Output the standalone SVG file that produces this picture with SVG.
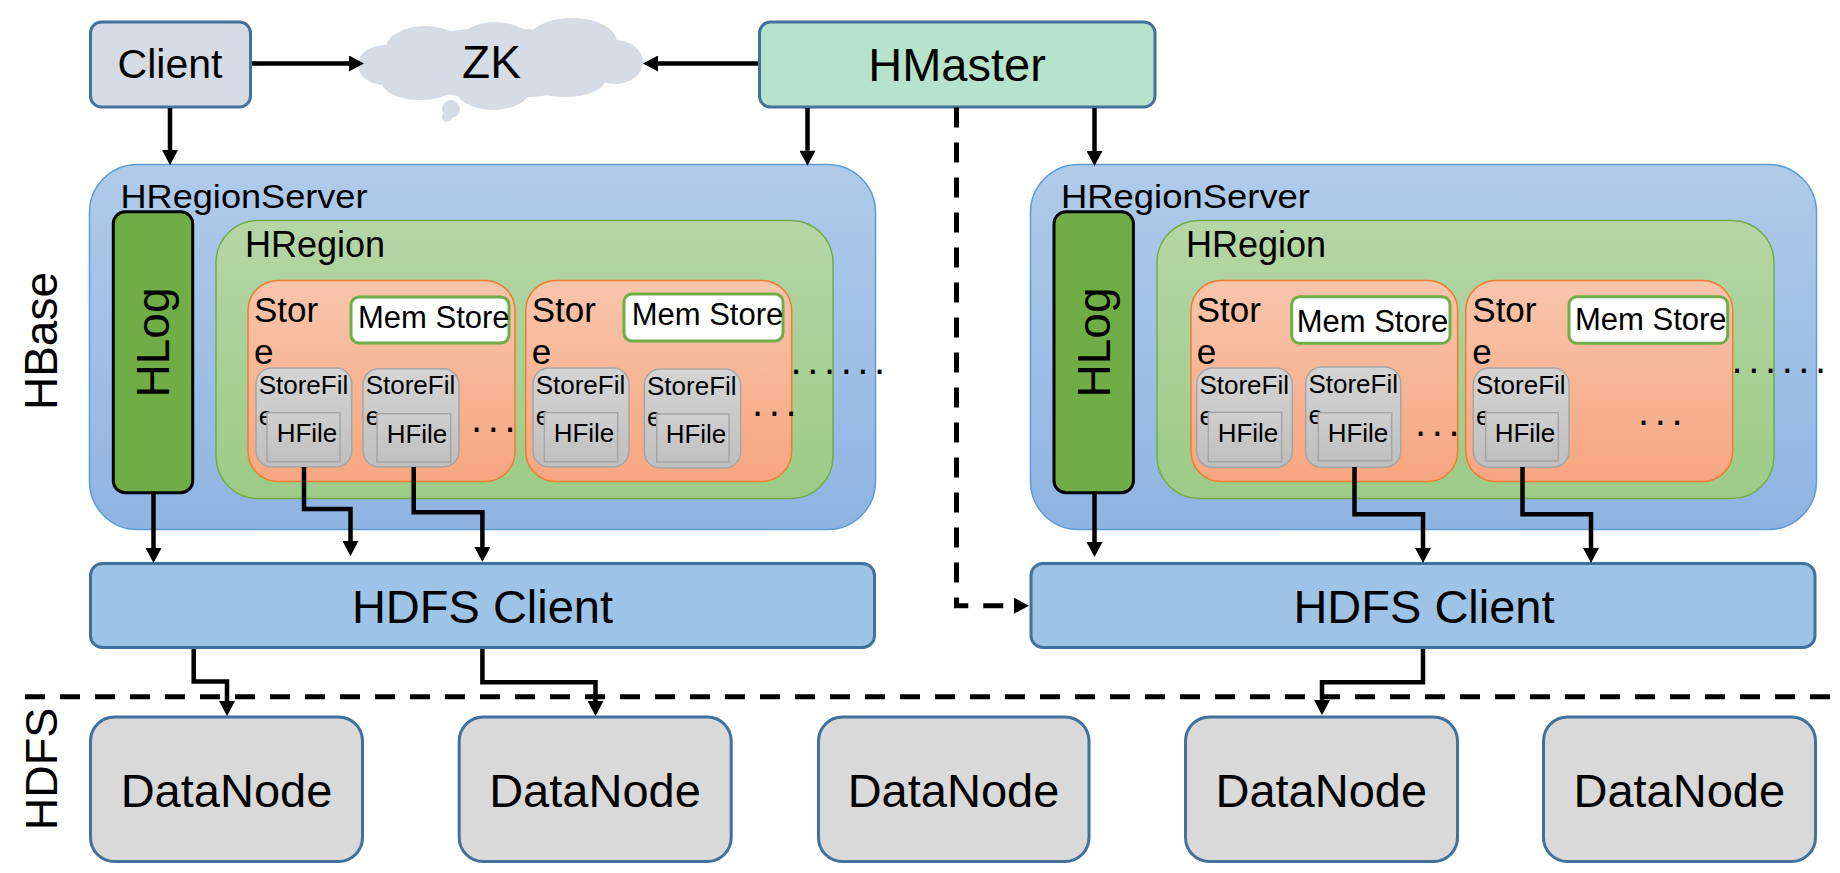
<svg xmlns="http://www.w3.org/2000/svg" width="1840" height="873" viewBox="0 0 1840 873">
<defs>
  <linearGradient id="gRS" x1="0" y1="0" x2="0" y2="1"><stop offset="0" stop-color="#b0cbea"/><stop offset="1" stop-color="#8fb4e2"/></linearGradient>
  <linearGradient id="gHR" x1="0" y1="0" x2="0" y2="1"><stop offset="0" stop-color="#b5d6a6"/><stop offset="1" stop-color="#9ccb86"/></linearGradient>
  <linearGradient id="gST" x1="0" y1="0" x2="0" y2="1"><stop offset="0" stop-color="#f8c5ac"/><stop offset="1" stop-color="#f6a67f"/></linearGradient>
  <linearGradient id="gSF" x1="0" y1="0" x2="0" y2="1"><stop offset="0" stop-color="#d4d4d4"/><stop offset="1" stop-color="#bfbfbf"/></linearGradient>
  <linearGradient id="gHF" x1="0" y1="0" x2="0" y2="1"><stop offset="0" stop-color="#cfcfcf"/><stop offset="1" stop-color="#c0c0c0"/></linearGradient>
  <marker id="ah" markerUnits="userSpaceOnUse" markerWidth="16" markerHeight="16" viewBox="0 0 15 16" refX="0" refY="8" orient="auto">
    <path d="M0,0 L15,8 L0,16 z" fill="#000"/>
  </marker>
</defs>
<style>
  text { font-family: "Liberation Sans", Arial, sans-serif; fill: #000; }
  .box { stroke: #41719c; stroke-width: 3; }
  .rs { fill: url(#gRS); stroke: #5b9bd5; stroke-width: 1.5; }
  .hr { fill: url(#gHR); stroke: #70ad47; stroke-width: 1.5; }
  .st { fill: url(#gST); stroke: #ed7d31; stroke-width: 1.5; }
  .sf { fill: url(#gSF); stroke: #a5a5a5; stroke-width: 1.5; }
  .hf { fill: url(#gHF); stroke: #a5a5a5; stroke-width: 1.5; }
  .mem { fill: #ffffff; stroke: #70ad47; stroke-width: 3; }
  .hlog { fill: #70ad47; stroke: #000; stroke-width: 3; }
  .dn { fill: #d9d9d9; }
  .conn { fill: none; stroke: #000; stroke-width: 4.5; stroke-linejoin: miter; }
  .dash { fill: none; stroke: #000; stroke-width: 5; stroke-dasharray: 20 15; }
  .t35 { font-size: 35px; }
  .t31 { font-size: 31px; }
  .t26 { font-size: 26px; }
  .dots { font-size: 40px; letter-spacing: 5.6px; }
  .mid { text-anchor: middle; }
</style>

<!-- side labels -->
<text class="mid" font-size="46" transform="translate(57,341) rotate(-90)">HBase</text>
<text class="mid" font-size="45" transform="translate(57,769) rotate(-90)">HDFS</text>

<!-- HDFS boundary -->
<line class="dash" x1="25" y1="696.7" x2="1840" y2="696.7" stroke-width="5.3"/>

<g id="client">
  <rect class="box" x="90.5" y="22" width="160" height="85" rx="11" fill="#d6dce5"/>
  <text class="mid" x="170" y="78" font-size="41">Client</text>
</g>

<g id="zk">
  <g fill="#d6dce5">
    <ellipse cx="500" cy="63" rx="125" ry="35"/>
    <ellipse cx="425" cy="50" rx="40" ry="24"/>
    <ellipse cx="495" cy="45" rx="38" ry="23"/>
    <ellipse cx="572" cy="42" rx="45" ry="24"/>
    <ellipse cx="615" cy="62" rx="28" ry="22"/>
    <ellipse cx="565" cy="80" rx="40" ry="17"/>
    <ellipse cx="493" cy="88" rx="38" ry="22"/>
    <ellipse cx="420" cy="82" rx="38" ry="18"/>
    <ellipse cx="385" cy="65" rx="27" ry="20"/>
    <circle cx="451" cy="109" r="9"/>
    <circle cx="447" cy="117" r="5"/>
  </g>
  <text class="mid" x="491.5" y="78.3" font-size="46">ZK</text>
</g>

<g id="hmaster">
  <rect class="box" x="759.5" y="22" width="395.5" height="85" rx="11" fill="#b6e3cc"/>
  <text class="mid" x="957" y="81" font-size="47">HMaster</text>
</g>

<!-- Left HRegionServer -->
<g id="hregionserver1">
  <rect class="rs" x="89.5" y="164.5" width="786" height="365" rx="48"/>
  <text x="120.5" y="208.3" font-size="33" textLength="247" lengthAdjust="spacingAndGlyphs">HRegionServer</text>
</g>
<g id="hlog1">
  <rect class="hlog" x="113.3" y="211.7" width="79.4" height="281" rx="12"/>
  <text class="mid" font-size="46" transform="translate(169,342.5) rotate(-90)">HLog</text>
</g>
<g id="hregion1">
  <rect class="hr" x="216" y="220.5" width="617" height="278" rx="42"/>
  <text x="245" y="257.3" font-size="36">HRegion</text>
</g>
<g id="store1a">
  <rect class="st" x="248" y="280.5" width="267" height="201" rx="30"/>
  <text class="t35" x="254" y="322">Stor</text>
  <text class="t35" x="254" y="364">e</text>
  <rect class="mem" x="351" y="297" width="158" height="46" rx="8"/>
  <text class="t31" x="358" y="328">Mem Store</text>
  <rect class="sf" x="256" y="368" width="95.7" height="99" rx="16"/>
  <text class="t26" x="258.7" y="394">StoreFil</text>
  <text class="t26" x="258.7" y="425">e</text>
  <rect class="hf" x="267" y="412.7" width="73" height="49"/>
  <text class="t26 mid" x="307" y="441.7">HFile</text>
  <rect class="sf" x="363" y="368.7" width="96" height="98.3" rx="16"/>
  <text class="t26" x="365.7" y="394">StoreFil</text>
  <text class="t26" x="365.7" y="425">e</text>
  <rect class="hf" x="377" y="413.7" width="73.7" height="48.3"/>
  <text class="t26 mid" x="417" y="442.5">HFile</text>
  <text class="dots" x="471" y="432">...</text>
</g>
<g id="store1b">
  <rect class="st" x="525.7" y="280.5" width="266" height="201" rx="30"/>
  <text class="t35" x="531.7" y="322">Stor</text>
  <text class="t35" x="531.7" y="364">e</text>
  <rect class="mem" x="624" y="294" width="159" height="47" rx="8"/>
  <text class="t31" x="631.7" y="325">Mem Store</text>
  <rect class="sf" x="533" y="368" width="96" height="99" rx="16"/>
  <text class="t26" x="535.7" y="394">StoreFil</text>
  <text class="t26" x="535.7" y="425">e</text>
  <rect class="hf" x="544.3" y="412.7" width="73.4" height="49"/>
  <text class="t26 mid" x="584" y="441.7">HFile</text>
  <rect class="sf" x="644.3" y="369" width="96.4" height="99" rx="16"/>
  <text class="t26" x="647" y="395">StoreFil</text>
  <text class="t26" x="647" y="426">e</text>
  <rect class="hf" x="656.7" y="414" width="72.3" height="48"/>
  <text class="t26 mid" x="696" y="443">HFile</text>
  <text class="dots" x="752" y="416">...</text>
</g>
<text class="dots" x="790.5" y="374" letter-spacing="4.7">......</text>

<!-- Right HRegionServer -->
<g id="hregionserver2">
  <rect class="rs" x="1030.5" y="164.5" width="786" height="365" rx="48"/>
  <text x="1061" y="208.3" font-size="33" textLength="249" lengthAdjust="spacingAndGlyphs">HRegionServer</text>
</g>
<g id="hlog2">
  <rect class="hlog" x="1054" y="211.7" width="79.4" height="281" rx="12"/>
  <text class="mid" font-size="46" transform="translate(1110,342.5) rotate(-90)">HLog</text>
</g>
<g id="hregion2">
  <rect class="hr" x="1157" y="220.5" width="617" height="278" rx="42"/>
  <text x="1186" y="257.3" font-size="36">HRegion</text>
</g>
<g id="store2a">
  <rect class="st" x="1191" y="280.5" width="266.7" height="201" rx="30"/>
  <text class="t35" x="1196.7" y="322">Stor</text>
  <text class="t35" x="1196.7" y="364">e</text>
  <rect class="mem" x="1291.7" y="296.7" width="158.3" height="46.6" rx="8"/>
  <text class="t31" x="1296.7" y="332">Mem Store</text>
  <rect class="sf" x="1196.7" y="368" width="95.6" height="99.3" rx="16"/>
  <text class="t26" x="1199.4" y="394">StoreFil</text>
  <text class="t26" x="1199.4" y="425">e</text>
  <rect class="hf" x="1208.3" y="412.3" width="73.4" height="49.4"/>
  <text class="t26 mid" x="1248" y="441.5">HFile</text>
  <rect class="sf" x="1305.7" y="367" width="95" height="100.3" rx="16"/>
  <text class="t26" x="1308.4" y="393">StoreFil</text>
  <text class="t26" x="1308.4" y="424">e</text>
  <rect class="hf" x="1318.3" y="412.7" width="73.4" height="48"/>
  <text class="t26 mid" x="1358" y="441.5">HFile</text>
  <text class="dots" x="1415" y="436">...</text>
</g>
<g id="store2b">
  <rect class="st" x="1465.7" y="280.5" width="267" height="201" rx="30"/>
  <text class="t35" x="1472.3" y="322">Stor</text>
  <text class="t35" x="1472.3" y="364">e</text>
  <rect class="mem" x="1569" y="296.7" width="158.7" height="46.6" rx="8"/>
  <text class="t31" x="1575" y="330">Mem Store</text>
  <rect class="sf" x="1473.3" y="368" width="95.7" height="99.3" rx="16"/>
  <text class="t26" x="1476" y="394">StoreFil</text>
  <text class="t26" x="1476" y="425">e</text>
  <rect class="hf" x="1485.7" y="412.7" width="72.6" height="48.3"/>
  <text class="t26 mid" x="1525" y="441.5">HFile</text>
  <text class="dots" x="1638" y="424.6">...</text>
</g>
<text class="dots" x="1731.5" y="373" letter-spacing="4.7">......</text>

<g id="hdfsclient1">
  <rect class="box" x="90.5" y="563.5" width="784" height="84" rx="12" fill="#9dc3e6"/>
  <text class="mid" x="482.5" y="622.7" font-size="47">HDFS Client</text>
</g>
<g id="hdfsclient2">
  <rect class="box" x="1031" y="563.5" width="784" height="84" rx="12" fill="#9dc3e6"/>
  <text class="mid" x="1424" y="622.7" font-size="47">HDFS Client</text>
</g>

<g id="datanode1">
  <rect class="box dn" x="90.5" y="717" width="272" height="144.5" rx="24"/>
  <text class="mid" x="226.5" y="806.7" font-size="47">DataNode</text>
</g>
<g id="datanode2">
  <rect class="box dn" x="459.2" y="717" width="272" height="144.5" rx="24"/>
  <text class="mid" x="595" y="806.7" font-size="47">DataNode</text>
</g>
<g id="datanode3">
  <rect class="box dn" x="818.5" y="717" width="270.5" height="144.5" rx="24"/>
  <text class="mid" x="953.5" y="806.7" font-size="47">DataNode</text>
</g>
<g id="datanode4">
  <rect class="box dn" x="1185.5" y="717" width="272" height="144.5" rx="24"/>
  <text class="mid" x="1321.3" y="806.7" font-size="47">DataNode</text>
</g>
<g id="datanode5">
  <rect class="box dn" x="1543.5" y="717" width="272" height="144.5" rx="24"/>
  <text class="mid" x="1679.3" y="806.7" font-size="47">DataNode</text>
</g>

<g id="connectors">
  <path class="conn" d="M252,63.5 H349" marker-end="url(#ah)"/>
  <path class="conn" d="M758,63.5 H658" marker-end="url(#ah)"/>
  <path class="conn" d="M170,108 V150" marker-end="url(#ah)"/>
  <path class="conn" d="M807.5,108 V150.7" marker-end="url(#ah)"/>
  <path class="conn" d="M1094.5,108 V151" marker-end="url(#ah)"/>
  <path class="dash" d="M956.5,107.5 V605.7 H1014" marker-end="url(#ah)"/>
  <path class="conn" d="M153.5,493 V548" marker-end="url(#ah)"/>
  <path class="conn" d="M304,467 V509 H350.5 V541" marker-end="url(#ah)"/>
  <path class="conn" d="M413.7,467 V512.3 H482.4 V547" marker-end="url(#ah)"/>
  <path class="conn" d="M193.7,649 V681.5 H227 V701" marker-end="url(#ah)"/>
  <path class="conn" d="M482.4,649 V682.3 H595.5 V701" marker-end="url(#ah)"/>
  <path class="conn" d="M1094.5,493 V542" marker-end="url(#ah)"/>
  <path class="conn" d="M1354.5,467 V514.3 H1423 V548" marker-end="url(#ah)"/>
  <path class="conn" d="M1522.5,467 V514.3 H1591 V548" marker-end="url(#ah)"/>
  <path class="conn" d="M1423,649 V682.3 H1322 V700" marker-end="url(#ah)"/>
</g>
</svg>
